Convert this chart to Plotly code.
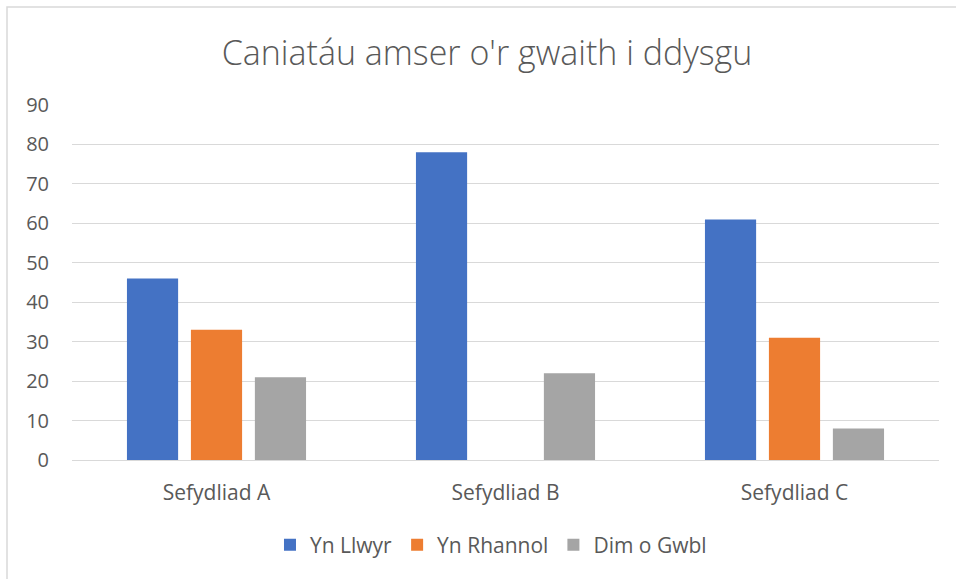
import plotly.graph_objects as go

categories = ["Sefydliad A", "Sefydliad B", "Sefydliad C"]
series_names = ["Yn Llwyr", "Yn Rhannol", "Dim o Gwbl"]
yn_llwyr = [46, 78, 61]
yn_rhannol = [33, 0, 31]
dim_o_gwbl = [21, 22, 8]
colors = ["#4472C4", "#ED7D31", "#A5A5A5"]
title_text = "Caniatáu amser o'r gwaith i ddysgu"

W, H = 956, 579
ml, mr, mt, mb = 72, 17, 105, 119
pw, ph = W - ml - mr, H - mt - mb

fig = go.Figure()
for name, vals, col in zip(series_names, [yn_llwyr, yn_rhannol, dim_o_gwbl], colors):
    fig.add_trace(go.Bar(x=categories, y=vals, name=name, marker_color=col,
                         marker_line_width=0))

font_fam = "'Open Sans', sans-serif"
fig.update_layout(
    width=W, height=H,
    margin=dict(l=ml, r=mr, t=mt, b=mb),
    paper_bgcolor="white", plot_bgcolor="white",
    barmode="group", bargap=0.336, bargroupgap=0.2,
    font=dict(family=font_fam, color="#595959", size=20),
    title=dict(text=title_text, x=487 / W, xanchor="center",
               y=1 - 53 / H, yanchor="middle",
               font=dict(size=34, color="#595959", family=font_fam, weight=300)),
    yaxis=dict(range=[0, 90], dtick=10, showgrid=True, gridcolor="#D9D9D9",
               gridwidth=1, zeroline=False, showline=False, ticks="",
               tickfont=dict(size=20, color="#595959"), ticklabelstandoff=22),
    xaxis=dict(showline=True, linecolor="#D9D9D9", linewidth=1, ticks="",
               tickfont=dict(size=21, color="#595959"), ticklabelstandoff=14),
    legend=dict(orientation="h", x=462 / W, xanchor="center",
                y=-(545 - 460) / ph, yanchor="middle",
                font=dict(size=21, color="#595959"),
                itemwidth=30, traceorder="normal"),
    shapes=[dict(type="rect", xref="paper", yref="paper",
                 x0=(7 - ml) / pw, x1=(W + 10 - ml) / pw,
                 y0=-(H + 10 - (mt + ph)) / ph, y1=1 + (mt - 7) / ph,
                 line=dict(color="#D9D9D9", width=1.5), layer="below")],
)

fig.write_html("out.html", config={"displayModeBar": False},
               post_script="document.body.style.margin='0';")
